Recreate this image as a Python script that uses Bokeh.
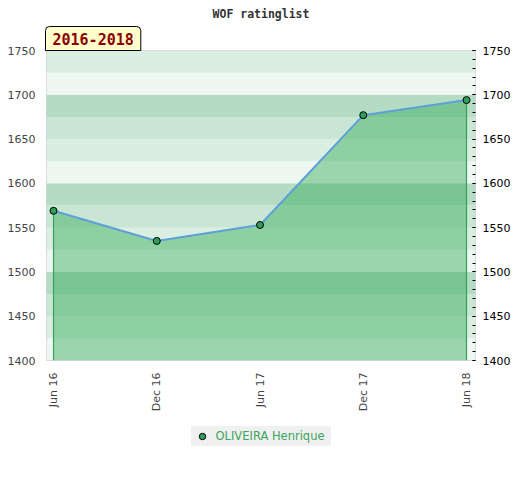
from bokeh.plotting import figure
from bokeh.layouts import column
from bokeh.models import (LinearAxis, FixedTicker, BoxAnnotation, Title, Legend, LegendItem, Range1d)
from bokeh.embed import file_html
from bokeh.resources import INLINE

# ---- data ----
periods = ["Jun 16", "Dec 16", "Jun 17", "Dec 17", "Jun 18"]
ratings = [1569, 1535, 1553, 1677, 1694]
player = "OLIVEIRA Henrique"
title_text = "WOF ratinglist"
span_text = "2016-2018"
y_ticks = [1400, 1450, 1500, 1550, 1600, 1650, 1700, 1750]
band_edges = list(range(1400, 1751, 25))
band_colors = ["#eef7f1", "#dbeee2", "#c8e6d3", "#b3dcc2"]

y_min, y_max = 1400, 1750
x_start, x_end = -0.068, 4.087
xs = list(range(len(periods)))

p = figure(width=520, height=418, output_backend="svg", toolbar_location=None,
           x_range=Range1d(x_start, x_end), y_range=Range1d(y_min, y_max),
           min_border_left=46, min_border_right=45, min_border_top=50, min_border_bottom=58,
           y_axis_location=None)
p.background_fill_color = "white"
p.border_fill_color = "white"
p.outline_line_color = "#d4d4d4"
p.outline_line_width = 1
p.grid.visible = False

# titles
p.title = Title(text=title_text, align="center", text_font="DejaVu Sans Mono",
                text_font_style="bold", text_font_size="11.5px", text_color="#333333",
                standoff=8)
box = Title(text=span_text, align="left", text_font="DejaVu Sans Mono", text_font_style="bold",
            text_font_size="15px", text_color="#8b0000",
            background_fill_color="#ffffcc", border_line_color="black", border_line_width=1,
            padding=dict(left=7, right=7, top=6, bottom=6),
            border_radius=dict(top_left=4, top_right=4, bottom_right=0, bottom_left=0),
            standoff=0, offset=-1)
p.add_layout(box, "above")

# background bands
for i in range(len(band_edges) - 1):
    p.add_layout(BoxAnnotation(bottom=band_edges[i], top=band_edges[i + 1],
                               fill_color=band_colors[i % 4], fill_alpha=1.0,
                               line_color=None, level="underlay"))

# area under the line
p.varea(x=xs, y1=[y_min] * len(xs), y2=ratings, fill_color="#37ad5a", fill_alpha=0.46)
p.segment(x0=[xs[0], xs[-1]], y0=[ratings[0], ratings[-1]], x1=[xs[0], xs[-1]], y1=[y_min, y_min],
          line_color="#35a05c", line_width=1.2)
p.line(xs, ratings, line_color="#5d9fd8", line_width=2)
pts = p.scatter(xs, ratings, size=7, fill_color="#2f9e5d", line_color="black", line_width=1)

# x axis
xa = p.xaxis[0]
xa.ticker = FixedTicker(ticks=xs)
xa.major_label_overrides = {i: s for i, s in enumerate(periods)}
xa.major_label_orientation = 1.5707963
xa.axis_line_color = None
xa.major_tick_line_color = None
xa.minor_tick_line_color = None
xa.major_tick_out = 0
xa.major_tick_in = 0
xa.minor_tick_out = 0
xa.major_label_standoff = 12
xa.major_label_text_font = "DejaVu Sans"
xa.major_label_text_font_size = "11px"
xa.major_label_text_color = "#444444"

# left axis
la = LinearAxis(ticker=FixedTicker(ticks=y_ticks))
la.axis_line_color = None
la.major_tick_line_color = None
la.minor_tick_line_color = None
la.major_tick_out = 0
la.major_tick_in = 0
la.minor_tick_out = 0
la.major_label_standoff = 11
la.major_label_text_font = "DejaVu Sans"
la.major_label_text_font_size = "11px"
la.major_label_text_color = "#444444"
p.add_layout(la, "left")

# right axis
ra = LinearAxis(ticker=FixedTicker(ticks=y_ticks, minor_ticks=list(range(1400, 1751, 10))))
ra.axis_line_color = None
ra.major_tick_line_color = "black"
ra.minor_tick_line_color = "black"
ra.major_tick_in = 3
ra.major_tick_out = 0
ra.minor_tick_in = 3
ra.minor_tick_out = 0
ra.major_label_standoff = 7
ra.major_label_text_font = "DejaVu Sans"
ra.major_label_text_font_size = "11px"
ra.major_label_text_color = "black"
p.add_layout(ra, "right")

# legend figure below
p2 = figure(width=520, height=40, output_backend="svg", toolbar_location=None,
            x_range=Range1d(x_start, x_end), y_range=Range1d(0, 1),
            min_border_left=0, min_border_right=0, min_border_top=0, min_border_bottom=0)
p2.axis.visible = False
p2.grid.visible = False
p2.outline_line_color = None
p2.background_fill_color = "white"
p2.border_fill_color = "white"
lg_pts = p2.scatter(xs, ratings, size=7, fill_color="#2f9e5d", line_color="black", line_width=1)
legend = Legend(items=[LegendItem(label=player, renderers=[lg_pts])], location="top_center",
                orientation="horizontal", background_fill_color="#f0f0f0", background_fill_alpha=1.0,
                border_line_color=None, label_text_color="#3ba55c", label_text_font="DejaVu Sans",
                label_text_font_size="11.5px", glyph_width=22, glyph_height=16, label_standoff=3,
                label_width=115, padding=0, label_height=20, margin=8, spacing=0)
p2.add_layout(legend, "center")

open("out.html", "w").write(file_html(column(p, p2), INLINE))
